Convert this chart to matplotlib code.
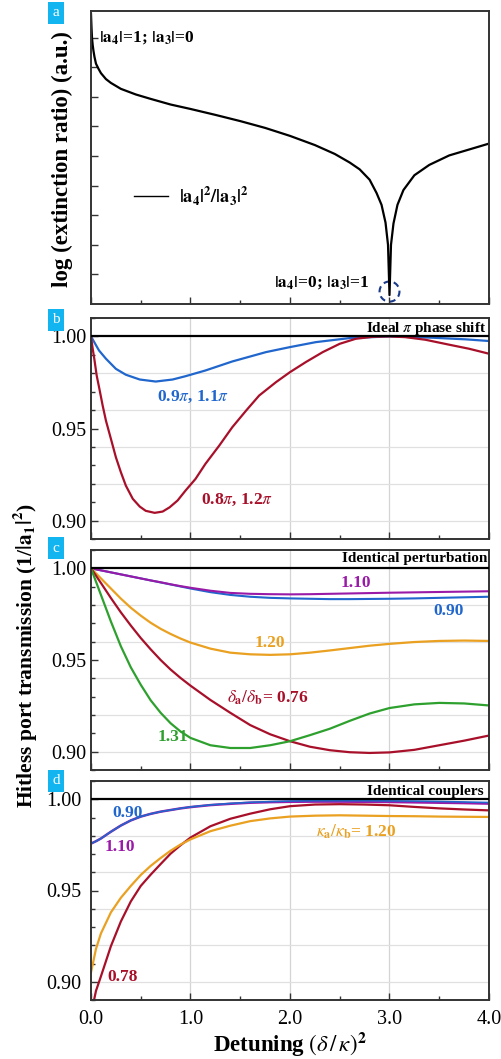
import matplotlib
matplotlib.use("Agg")
import matplotlib.pyplot as plt
from matplotlib.patches import Ellipse
from matplotlib.ticker import MultipleLocator

plt.rcParams['font.family'] = ['Liberation Serif', 'DejaVu Serif']
plt.rcParams['mathtext.fontset'] = 'stix'

# colours
BLUE = '#2066cc'
RED = '#a8102a'
ORANGE = '#eaa020'
PURPLE = '#9a1aa8'
GREEN = '#2ea02e'
CYAN = '#12b5f0'

# ---- panel a: log extinction ratio (arbitrary units)
a_x = [0.0, 0.005, 0.01, 0.017, 0.025, 0.035, 0.05, 0.075, 0.1, 0.15, 0.2, 0.3, 0.45,
       0.6, 0.8, 1.0, 1.25, 1.5, 1.75, 2.0, 2.25, 2.45, 2.6, 2.7, 2.8, 2.87, 2.92,
       2.96, 2.985, 3.0, 3.015, 3.04, 3.08, 3.14, 3.25, 3.4, 3.6, 3.8, 4.0]
a_y = [9.8, 9.35, 9.0, 8.75, 8.55, 8.35, 8.12, 7.95, 7.8, 7.6, 7.47, 7.27, 7.08,
       6.93, 6.74, 6.59, 6.39, 6.18, 5.95, 5.68, 5.37, 5.07, 4.78, 4.55, 4.2, 3.75, 3.35,
       2.75, 2.0, 0.3, 2.0, 2.72, 3.35, 3.85, 4.35, 4.7, 5.02, 5.22, 5.42]

# ---- panel b: ideal pi phase shift
b_x_blue = [0.0, 0.08, 0.15, 0.25, 0.35, 0.49, 0.65, 0.82, 0.95, 1.15, 1.42, 1.76,
            2.0, 2.26, 2.6, 3.0, 3.43, 3.77, 4.0]
b_y_blue = [1.0, 0.9924, 0.9879, 0.9824, 0.9792, 0.9766, 0.9755, 0.9766, 0.9784, 0.9815,
            0.9864, 0.9915, 0.9942, 0.9969, 0.9991, 1.0, 0.9993, 0.9984, 0.9975]
b_x_red = [0.0, 0.017, 0.033, 0.057, 0.084, 0.117, 0.15, 0.2, 0.25, 0.3, 0.35, 0.42,
           0.49, 0.55, 0.64, 0.72, 0.79, 0.87, 0.95, 1.05, 1.15, 1.29, 1.42, 1.56,
           1.69, 1.86, 2.0, 2.16, 2.33, 2.5, 2.66, 2.83, 3.0, 3.16, 3.36, 3.6, 3.8, 4.0]
b_y_red = [1.0, 0.9933, 0.9879, 0.9788, 0.9716, 0.9625, 0.9543, 0.9444, 0.9344, 0.9263,
           0.919, 0.9118, 0.9076, 0.9053, 0.9042, 0.9049, 0.9072, 0.9109, 0.9163, 0.9226,
           0.9308, 0.9408, 0.9507, 0.9598, 0.9679, 0.9752, 0.9806, 0.9861, 0.9915, 0.996,
           0.9987, 0.9998, 1.0, 0.9996, 0.9982, 0.9955, 0.9933, 0.9906]

# ---- panel c: identical perturbation
c_x = [0.0, 0.1, 0.2, 0.3, 0.4, 0.5, 0.6, 0.7, 0.8, 0.9, 1.0, 1.2, 1.4, 1.6, 1.8,
       2.0, 2.2, 2.4, 2.6, 2.8, 3.0, 3.25, 3.5, 3.75, 4.0]
c_purple = [1.0, 0.9989, 0.9978, 0.9967, 0.9956, 0.9945, 0.9934, 0.9924, 0.9913, 0.9903,
            0.9894, 0.9878, 0.9866, 0.9861, 0.9859, 0.9858, 0.9859, 0.9861, 0.9863, 0.9865,
            0.9867, 0.9869, 0.9871, 0.9873, 0.9875]
c_blue = [1.0, 0.9989, 0.9978, 0.9967, 0.9956, 0.9945, 0.9934, 0.9923, 0.9912, 0.9901,
          0.989, 0.987, 0.9855, 0.9845, 0.9839, 0.9836, 0.9834, 0.9832, 0.9832, 0.9833,
          0.9834, 0.9836, 0.9839, 0.9842, 0.9845]
c_orange = [1.0, 0.9945, 0.989, 0.9835, 0.9785, 0.9742, 0.9703, 0.967, 0.9642, 0.9617,
            0.9595, 0.9562, 0.954, 0.9531, 0.9528, 0.9531, 0.954, 0.9552, 0.9565, 0.9578,
            0.9588, 0.9598, 0.9604, 0.9606, 0.9604]
c_red = [1.0, 0.992, 0.9838, 0.976, 0.9688, 0.962, 0.9558, 0.95, 0.9448, 0.9402,
         0.936, 0.9282, 0.9212, 0.9145, 0.9095, 0.9057, 0.9027, 0.9008, 0.8997, 0.8993,
         0.8996, 0.901, 0.9035, 0.906, 0.9088]
c_green = [1.0, 0.9855, 0.971, 0.9575, 0.946, 0.9365, 0.928, 0.9212, 0.9155, 0.911,
           0.9075, 0.9035, 0.902, 0.902, 0.9035, 0.9057, 0.909, 0.9125, 0.9168, 0.9208,
           0.9238, 0.9258, 0.9266, 0.9263, 0.9252]

# ---- panel d: identical couplers
d_x = [0.0, 0.05, 0.1, 0.2, 0.3, 0.4, 0.5, 0.6, 0.7, 0.8, 0.9, 1.0, 1.2, 1.4, 1.6,
       1.8, 2.0, 2.25, 2.5, 2.75, 3.0, 3.25, 3.5, 3.75, 4.0]
d_purple = [0.9757, 0.977, 0.9785, 0.9822, 0.9856, 0.9884, 0.9905, 0.992, 0.9932, 0.9941,
            0.995, 0.9957, 0.9968, 0.9975, 0.9981, 0.9984, 0.9986, 0.9987, 0.9987, 0.9986,
            0.9985, 0.9983, 0.9981, 0.9979, 0.9976]
d_blue = [0.9757, 0.977, 0.9785, 0.9822, 0.9856, 0.9884, 0.9905, 0.992, 0.9932, 0.9941,
          0.995, 0.9958, 0.9969, 0.9977, 0.9983, 0.9987, 0.999, 0.9992, 0.9992, 0.9992,
          0.9991, 0.999, 0.9988, 0.9985, 0.9982]
d_red = [0.882, 0.895, 0.903, 0.9195, 0.933, 0.944, 0.9525, 0.9587, 0.9645, 0.9702,
         0.9748, 0.979, 0.9852, 0.9893, 0.9921, 0.9945, 0.9962, 0.9971, 0.9973, 0.9971,
         0.9967, 0.9958, 0.995, 0.9944, 0.9939]
d_orange = [0.9051, 0.918, 0.9265, 0.938, 0.946, 0.9525, 0.9585, 0.9635, 0.9678, 0.9718,
            0.9752, 0.978, 0.9825, 0.9855, 0.988, 0.9895, 0.9905, 0.991, 0.9912, 0.991,
            0.9908, 0.9907, 0.9905, 0.9904, 0.9903]

x_ticks = [0, 1, 2, 3, 4]
x_ticklabels = ['0.0', '1.0', '2.0', '3.0', '4.0']
y_ticks = [0.90, 0.95, 1.00]
y_ticklabels = ['0.90', '0.95', '1.00']

fig = plt.figure(figsize=(5.02, 10.59), dpi=100)
W, H = 502.0, 1059.0

def add_ax(top, bottom):
    return fig.add_axes([91 / W, 1 - bottom / H, 398 / W, (bottom - top) / H])

ax_a = add_ax(11, 304)
ax_b = add_ax(318, 539)
ax_c = add_ax(550, 770)
ax_d = add_ax(781, 1000)

for ax in (ax_a, ax_b, ax_c, ax_d):
    ax.set_xlim(0, 4)
    ax.xaxis.set_major_locator(MultipleLocator(1))
    ax.xaxis.set_minor_locator(MultipleLocator(0.5))
    ax.tick_params(which='both', direction='in', top=False, right=False,
                   labelsize=14.5, color='#333333', width=1.0)
    ax.tick_params(which='major', length=5)
    ax.tick_params(which='minor', length=3)
    for s in ax.spines.values():
        s.set_color('#333333')
        s.set_linewidth(1.4)

# panel a
ax_a.plot(a_x, a_y, color='black', lw=1.6)
ax_a.set_ylim(0, 9.9)
ax_a.set_yticks(range(1, 10))
ax_a.tick_params(labelleft=False, labelbottom=False)
ax_a.plot([0.43, 0.77], [3.65, 3.65], color='black', lw=1.0)
ax_a.text(0.88, 3.65, r'$\mathbf{|a_4|^2/|a_3|^2}$', fontsize=13, va='center')
ax_a.text(0.08, 9.0, r'$\mathbf{|a_4|}$=1; $\mathbf{|a_3|}$=0', fontsize=12.5,
          fontweight='bold', va='center')
ax_a.text(1.84, 0.72, r'$\mathbf{|a_4|}$=0; $\mathbf{|a_3|}$=1', fontsize=12.5,
          fontweight='bold', va='center')
ax_a.add_patch(Ellipse((3.0, 0.42), 0.2, 0.68, fill=False, ls=(0, (3, 2)),
                       ec='#1a3a8a', lw=1.5))

# panels b-d common
for ax in (ax_b, ax_c, ax_d):
    ax.set_ylim(0.89, 1.01)
    ax.set_yticks(y_ticks)
    ax.set_yticklabels(y_ticklabels)
    ax.yaxis.set_minor_locator(MultipleLocator(0.01))
    for gx in (1, 2, 3):
        ax.axvline(gx, color='#d4d4d4', lw=0.9, zorder=0)
    for gy in (0.90, 0.92, 0.94, 0.96, 0.98):
        ax.axhline(gy, color='#e0e0e0', lw=0.9, zorder=0)
    ax.axhline(1.0, color='black', lw=1.6, zorder=3)
    ax.tick_params(labelbottom=False)

# panel b
ax_b.plot(b_x_blue, b_y_blue, color=BLUE, lw=1.6)
ax_b.plot(b_x_red, b_y_red, color=RED, lw=1.6)
ax_b.text(3.97, 1.0045, r'Ideal $\pi$ phase shift', ha='right', va='center',
          fontsize=11, fontweight='bold')
ax_b.text(0.66, 0.967, r'0.9$\pi$, 1.1$\pi$', color=BLUE, fontsize=12.5,
          fontweight='bold', va='center')
ax_b.text(1.11, 0.911, r'0.8$\pi$, 1.2$\pi$', color=RED, fontsize=12.5,
          fontweight='bold', va='center')

# panel c
ax_c.plot(c_x, c_blue, color=BLUE, lw=1.5)
ax_c.plot(c_x, c_purple, color=PURPLE, lw=1.5)
ax_c.plot(c_x, c_orange, color=ORANGE, lw=1.6)
ax_c.plot(c_x, c_red, color=RED, lw=1.6)
ax_c.plot(c_x, c_green, color=GREEN, lw=1.6)
ax_c.text(3.98, 1.0055, 'Identical perturbation', ha='right', va='center',
          fontsize=11, fontweight='bold')
ax_c.text(2.66, 0.9918, '1.10', color=PURPLE, fontsize=12.5, fontweight='bold',
          ha='center', va='center')
ax_c.text(3.59, 0.9768, '0.90', color=BLUE, fontsize=12.5, fontweight='bold',
          ha='center', va='center')
ax_c.text(1.8, 0.9593, '1.20', color=ORANGE, fontsize=12.5, fontweight='bold',
          ha='center', va='center')
ax_c.text(1.37, 0.9294, r'$\delta_\mathbf{a}/\delta_\mathbf{b}$= 0.76', color=RED,
          fontsize=12.5, fontweight='bold', va='center')
ax_c.text(0.82, 0.9078, '1.31', color=GREEN, fontsize=12.5, fontweight='bold',
          ha='center', va='center')

# panel d
ax_d.plot(d_x, d_purple, color=PURPLE, lw=1.8)
ax_d.plot(d_x, d_blue, color=BLUE, lw=1.2)
ax_d.plot(d_x, d_red, color=RED, lw=1.6)
ax_d.plot(d_x, d_orange, color=ORANGE, lw=1.6)
ax_d.text(3.95, 1.004, 'Identical couplers', ha='right', va='center',
          fontsize=11, fontweight='bold')
ax_d.text(0.37, 0.9925, '0.90', color=BLUE, fontsize=12.5, fontweight='bold',
          ha='center', va='center')
ax_d.text(0.29, 0.9741, '1.10', color=PURPLE, fontsize=12.5, fontweight='bold',
          ha='center', va='center')
ax_d.text(0.32, 0.9024, '0.78', color=RED, fontsize=12.5, fontweight='bold',
          ha='center', va='center')
ax_d.text(2.26, 0.982, r'$\kappa_\mathbf{a}/\kappa_\mathbf{b}$= 1.20', color=ORANGE,
          fontsize=12.5, fontweight='bold', va='center')
ax_d.tick_params(labelbottom=True, pad=7)
ax_d.set_xticks(x_ticks)
ax_d.set_xticklabels(x_ticklabels)

# axis labels
fig.text(62 / W, 1 - 159 / H, 'log (extinction ratio) (a.u.)', rotation=90,
         ha='center', va='center', fontsize=16.5, fontweight='bold')
fig.text(25 / W, 1 - 655 / H, r'Hitless port transmission (1/$\mathbf{|a_1|^2}$)',
         rotation=90, ha='center', va='center', fontsize=15.5, fontweight='bold')
fig.text(290 / W, 1 - 1045 / H, r'Detuning $(\delta\,/\,\kappa)^\mathbf{2}$',
         ha='center', va='center', fontsize=16.5, fontweight='bold')

# panel letters
for letter, ypx in (('a', 13), ('b', 320), ('c', 548), ('d', 781)):
    fig.text(56 / W, 1 - ypx / H, letter, color='white', fontsize=11,
             ha='center', va='center',
             bbox=dict(boxstyle='square,pad=0.3', fc=CYAN, ec='none'))

fig.savefig('out.png', dpi=100)
